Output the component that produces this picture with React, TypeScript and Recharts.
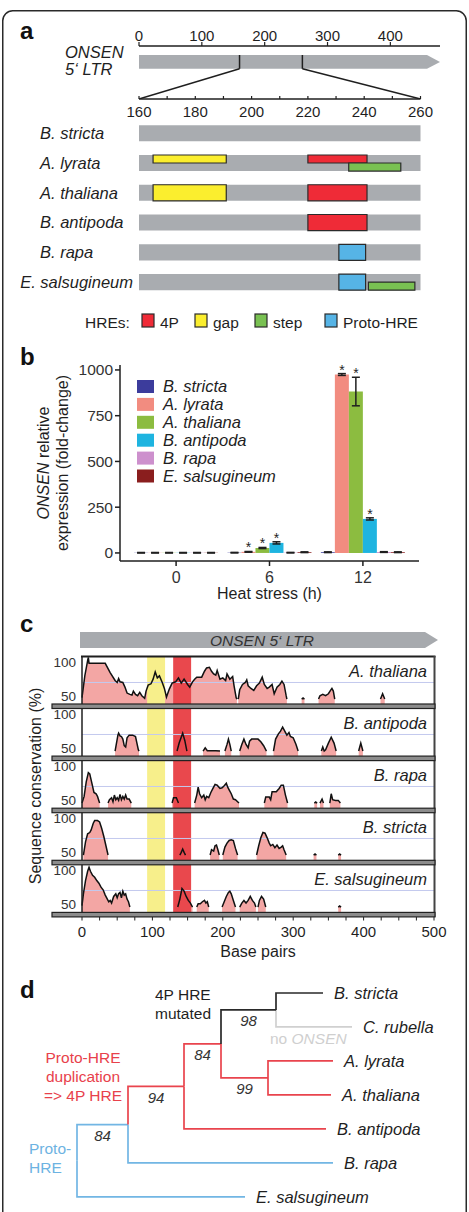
import React from 'react';
import {
  ComposedChart, BarChart, Bar, XAxis, YAxis, ErrorBar, LabelList,
  ReferenceArea, ReferenceLine, Area, Line, Scatter,
} from 'recharts';

const FONT = '"Liberation Sans", Arial, Helvetica, sans-serif';
const INK = '#1f1f1f';
const W = 469;

/* ───────────── a: ONSEN 5' LTR and its heat-responsive elements ───────────── */
const LTR_LENGTH = 479;
const LTR_TICKS = [0, 100, 200, 300, 400];
const ZOOM_FROM = 160;
const ZOOM_TO = 260;
const ZOOM_TICKS = [160, 170, 180, 190, 200, 210, 220, 230, 240, 250, 260];
const ZOOM_LABEL_STEP = 20;

const HRE_SPECIES = ['B. stricta', 'A. lyrata', 'A. thaliana', 'B. antipoda', 'B. rapa', 'E. salsugineum'];
const HRE_TYPES = ['4P', 'gap', 'step', 'Proto-HRE'];

type Track = 'full' | 'upper' | 'lower';
const hreSites: { species: string; type: string; start: number; end: number; track: Track }[] = [
  { species: 'A. lyrata', type: 'gap', start: 165, end: 191, track: 'upper' },
  { species: 'A. lyrata', type: '4P', start: 220, end: 241, track: 'upper' },
  { species: 'A. lyrata', type: 'step', start: 234.5, end: 253, track: 'lower' },
  { species: 'A. thaliana', type: 'gap', start: 165, end: 191, track: 'full' },
  { species: 'A. thaliana', type: '4P', start: 220, end: 241, track: 'full' },
  { species: 'B. antipoda', type: '4P', start: 220, end: 241, track: 'full' },
  { species: 'B. rapa', type: 'Proto-HRE', start: 231, end: 240.5, track: 'full' },
  { species: 'E. salsugineum', type: 'Proto-HRE', start: 231, end: 240.5, track: 'full' },
  { species: 'E. salsugineum', type: 'step', start: 241.5, end: 258, track: 'lower' },
];

const HRE_FILL: Record<string, string> = {
  '4P': '#ef2b37',
  gap: '#fbee2e',
  step: '#79c152',
  'Proto-HRE': '#56b4e6',
};
const LTR_GREY = '#a9acb0';

const TOP_AXIS = { left: 139, right: 440 };
const ZOOM_AXIS = { left: 139, right: 420.5 };
const ROW_HALF = 0.27;
const ARROW_Y: [number, number] = [0.17, 0.43];
const ROW_DOMAIN: [number, number] = [-1.15, 5.5];

/* ───────────── b: ONSEN expression after heat stress ───────────── */
const HEAT_HOURS = ['0', '6', '12'];
const EXPR_KEYS = ['stricta', 'lyrata', 'thaliana', 'antipoda', 'rapa', 'salsug'];
const EXPR_NAMES = ['B. stricta', 'A. lyrata', 'A. thaliana', 'B. antipoda', 'B. rapa', 'E. salsugineum'];

const strictaFold = [1, 1.5, 4];
const lyrataFold = [1, 6, 975];
const thalianaFold = [1, 27, 882];
const antipodaFold = [1, 55, 186];
const rapaFold = [1, 1.5, 5];
const salsugFold = [1, 4, 4];

const strictaErr = [1.5, 1.5, 2];
const lyrataErr = [1.5, 2, 5];
const thalianaErr = [1.5, 3, 78];
const antipodaErr = [1.5, 6, 6];
const rapaErr = [1.5, 1.5, 2];
const salsugErr = [1.5, 2, 2];

const strictaSig = [false, false, false];
const lyrataSig = [false, true, true];
const thalianaSig = [false, true, true];
const antipodaSig = [false, true, true];
const rapaSig = [false, false, false];
const salsugSig = [false, false, false];

const EXPR_FOLD = [strictaFold, lyrataFold, thalianaFold, antipodaFold, rapaFold, salsugFold];
const EXPR_ERR = [strictaErr, lyrataErr, thalianaErr, antipodaErr, rapaErr, salsugErr];
const EXPR_SIG = [strictaSig, lyrataSig, thalianaSig, antipodaSig, rapaSig, salsugSig];
const EXPR_TICKS = [0, 250, 500, 750, 1000];

const EXPR_COLORS: Record<string, string> = {
  stricta: '#3c3c9c',
  lyrata: '#f28c80',
  thaliana: '#8cbc40',
  antipoda: '#1eb4e0',
  rapa: '#cd90cd',
  salsug: '#8a1e1e',
};

const exprRows = HEAT_HOURS.map((h, i) => {
  const row: Record<string, any> = { time: h };
  EXPR_KEYS.forEach((k, s) => {
    row[k] = EXPR_FOLD[s][i];
    row[`${k}_err`] = EXPR_ERR[s][i];
    row[`${k}_sig`] = EXPR_SIG[s][i];
  });
  return row;
});

/* ───────────── c: sequence conservation along the LTR ───────────── */
type Seg = [number, number][];
const thalianaSegments: Seg[] = [
  [[0, 52], [4, 85], [8, 108], [9, 113], [10, 104], [33, 104], [40, 90], [47, 78], [50, 75], [52, 81], [54, 76], [58, 75], [61, 68], [64, 59], [68, 57], [71, 56], [73, 62], [76, 57], [79, 55], [82, 60], [85, 55], [89, 51], [91, 62], [94, 71], [98, 73], [101, 80], [104, 91], [107, 82], [110, 85], [114, 75], [117, 66], [120, 53], [124, 65], [128, 74], [133, 76], [137, 82], [141, 74], [145, 80], [150, 72], [153, 68], [157, 76], [160, 80], [163, 83], [170, 83], [174, 92], [177, 97], [181, 98], [184, 92], [187, 88], [190, 86], [192, 93], [196, 80], [200, 82], [204, 78], [206, 88], [210, 80], [214, 84], [216, 70], [219, 52], [220, 50]],
  [[222, 50], [224, 64], [228, 72], [232, 75], [234, 79], [236, 70], [240, 66], [244, 63], [248, 70], [252, 74], [256, 83], [259, 72], [263, 66], [266, 68], [270, 72], [273, 58], [277, 68], [281, 72], [284, 77], [287, 72], [290, 55], [291, 50]],
  [[312, 50], [314, 51.5], [316, 50]],
  [[336, 50], [338, 55], [342, 57], [346, 55], [350, 58], [353, 63], [355, 66], [357, 62], [359, 50]],
  [[424, 50], [427, 58], [430, 50]],
];
const antipodaSegments: Seg[] = [
  [[47, 50], [49, 62], [51, 74], [52, 77], [54, 73], [56, 72], [58, 68], [60, 58], [62, 56], [64, 70], [67, 74], [72, 74], [76, 72], [78, 62], [80, 52], [81, 50]],
  [[135, 50], [138, 62], [143, 77], [146, 66], [149, 50]],
  [[172, 50], [175, 55], [178, 50.5], [190, 50.5], [196, 50]],
  [[203, 50], [206, 60], [208, 68], [210, 60], [212, 50]],
  [[224, 50], [227, 60], [230, 68], [233, 60], [236, 55], [238, 65], [241, 68], [245, 68], [250, 68], [254, 64], [258, 58], [262, 50]],
  [[272, 50], [275, 68], [279, 76], [282, 80], [285, 86], [288, 80], [291, 74], [294, 78], [296, 72], [300, 70], [304, 60], [307, 50]],
  [[340, 50], [342, 56], [344, 50], [346, 52], [350, 62], [354, 71], [358, 62], [361, 50]],
  [[393, 50], [396, 62], [399, 50]],
];
const rapaSegments: Seg[] = [
  [[0, 50], [3, 60], [6, 82], [9, 96], [11, 94], [14, 80], [17, 66], [20, 64], [22, 60], [25, 50]],
  [[37, 50], [39, 55], [42, 58], [44, 52], [46, 62], [48, 55], [50, 58], [52, 54], [54, 63], [56, 55], [58, 60], [60, 56], [62, 62], [64, 56], [67, 56], [70, 50]],
  [[128, 50], [130, 58], [134, 58], [137, 50]],
  [[160, 50], [163, 62], [165, 74], [167, 64], [170, 58], [173, 62], [175, 55], [177, 60], [180, 58], [183, 66], [186, 72], [189, 78], [192, 77], [196, 72], [199, 73], [202, 76], [205, 80], [207, 74], [209, 70], [212, 64], [215, 56], [218, 55], [221, 52], [223, 50]],
  [[259, 50], [261, 59], [266, 59], [268, 55], [270, 67], [276, 67], [280, 72], [283, 77], [286, 77], [289, 62], [292, 50]],
  [[330, 50], [332, 51.5], [334, 50]],
  [[338, 50], [341, 56], [343, 50]],
  [[352, 50], [354, 64], [356, 55], [360, 54], [364, 54], [367, 50]],
];
const strictaSegments: Seg[] = [
  [[2, 50], [5, 70], [8, 82], [11, 84], [13, 88], [16, 98], [18, 102], [22, 102], [25, 100], [28, 90], [31, 78], [34, 64], [37, 50]],
  [[139, 50], [141, 54], [143, 59], [145, 54], [147, 50]],
  [[182, 50], [184, 58], [187, 56], [189, 64], [191, 65], [193, 58], [195, 50]],
  [[200, 50], [203, 62], [206, 68], [209, 72], [212, 73], [215, 72], [218, 60], [221, 50]],
  [[248, 50], [251, 64], [254, 76], [257, 84], [260, 83], [263, 76], [266, 68], [268, 64], [271, 66], [274, 61], [277, 65], [280, 60], [283, 62], [285, 64], [287, 58], [290, 50]],
  [[329, 50], [331, 51.5], [333, 50]],
  [[364, 50], [366, 51.5], [368, 50]],
];
const salsugSegments: Seg[] = [
  [[0, 52], [2, 70], [5, 90], [8, 104], [10, 110], [12, 104], [15, 98], [18, 95], [21, 90], [24, 86], [27, 80], [30, 76], [33, 68], [36, 62], [38, 58], [40, 60], [42, 56], [45, 66], [48, 70], [50, 64], [52, 70], [54, 72], [56, 64], [58, 74], [60, 68], [62, 70], [64, 62], [66, 58], [68, 50]],
  [[136, 50], [139, 62], [142, 78], [145, 74], [148, 66], [151, 60], [154, 56], [157, 50]],
  [[163, 50], [165, 55], [168, 55], [171, 58], [174, 60], [176, 56], [178, 58], [180, 50]],
  [[199, 50], [202, 58], [205, 66], [208, 72], [210, 74], [212, 70], [215, 60], [218, 50]],
  [[224, 50], [227, 56], [230, 60], [233, 56], [236, 60], [239, 66], [242, 60], [245, 56], [247, 50]],
  [[250, 50], [252, 60], [255, 66], [258, 62], [261, 50]],
  [[364, 50], [366, 51.5], [368, 50]],
];

const CONS_NAMES = ['A. thaliana', 'B. antipoda', 'B. rapa', 'B. stricta', 'E. salsugineum'];
const CONS_SEGMENTS = [thalianaSegments, antipodaSegments, rapaSegments, strictaSegments, salsugSegments];
const GAP_HRE_BP: [number, number] = [92.5, 118];
const FOURP_HRE_BP: [number, number] = [129.5, 155];
const BP_TICKS = Array.from({ length: 21 }, (_, i) => i * 25);
const CONS_DOMAIN: [number, number] = [42.5, 115];

const toSeries = (segs: Seg[]) =>
  segs.flatMap((seg) => [
    ...seg.map(([bp, v]) => ({ bp, v })),
    { bp: seg[seg.length - 1][0] + 0.5, v: null as number | null },
  ]);

/* ───────────── d: phylogeny ───────────── */
const LEAF_ORDER = ['B. stricta', 'C. rubella', 'A. lyrata', 'A. thaliana', 'B. antipoda', 'B. rapa', 'E. salsugineum'];
type HreState = 'proto' | 'fourP' | 'mutated' | 'absent';
const treeEdges: { node: string; parent: string; length: number; state: HreState }[] = [
  { node: 'C. rubella', parent: 'n4', length: 0.076, state: 'absent' },
  { node: 'n1', parent: 'root', length: 0.051, state: 'proto' },
  { node: 'E. salsugineum', parent: 'root', length: 0.168, state: 'proto' },
  { node: 'B. rapa', parent: 'n1', length: 0.205, state: 'proto' },
  { node: 'n2', parent: 'n1', length: 0.056, state: 'fourP' },
  { node: 'B. antipoda', parent: 'n2', length: 0.142, state: 'fourP' },
  { node: 'n3', parent: 'n2', length: 0.037, state: 'fourP' },
  { node: 'n5', parent: 'n3', length: 0.047, state: 'fourP' },
  { node: 'A. lyrata', parent: 'n5', length: 0.065, state: 'fourP' },
  { node: 'A. thaliana', parent: 'n5', length: 0.063, state: 'fourP' },
  { node: 'n4', parent: 'n3', length: 0.055, state: 'mutated' },
  { node: 'B. stricta', parent: 'n4', length: 0.047, state: 'mutated' },
];
const BOOTSTRAP: Record<string, number> = { n1: 84, n2: 94, n3: 84, n4: 98, n5: 99 };
const STATE_COLOR: Record<HreState, string> = {
  proto: '#72b6e4',
  fourP: '#e9444d',
  mutated: '#2a2a2a',
  absent: '#d0d0d0',
};

const depthOf = (id: string): number => {
  const e = treeEdges.find((t) => t.node === id);
  return e ? depthOf(e.parent) + e.length : 0;
};
const rankOf = (id: string): number => {
  const leaf = LEAF_ORDER.indexOf(id);
  if (leaf >= 0) return leaf;
  const kids = treeEdges.filter((t) => t.parent === id).map((t) => rankOf(t.node));
  return kids.reduce((a, b) => a + b, 0) / kids.length;
};
const edgePaths = treeEdges.map((e) => {
  const px = depthOf(e.parent);
  const py = rankOf(e.parent);
  const cx = depthOf(e.node);
  const cy = rankOf(e.node);
  return { ...e, points: [{ x: px, y: py }, { x: px, y: cy }, { x: cx, y: cy }] };
});
const leafPoints = LEAF_ORDER.map((name) => ({ x: depthOf(name), y: rankOf(name), name }));
const supportPoints = Object.keys(BOOTSTRAP).map((id) => {
  const e = treeEdges.find((t) => t.node === id)!;
  return { x: (depthOf(e.parent) + depthOf(id)) / 2, y: rankOf(id), support: BOOTSTRAP[id] };
});

/* ───────────── small renderers ───────────── */
const NoMark = () => <g />;

const ltrArrow = (head: number, fill: string) => (p: any) => {
  const { x, y, width, height } = p;
  const pts = [
    [x, y], [x + width - head, y], [x + width, y + height / 2], [x + width - head, y + height], [x, y + height],
  ].map((q) => q.join(',')).join(' ');
  return <polygon points={pts} fill={fill} />;
};

const ZoomTick = (p: any) => {
  const v = p.payload.value;
  return (
    <g>
      <line x1={p.x} x2={p.x} y1={p.y - 3} y2={p.y} stroke={INK} strokeWidth={1.2} />
      {(v - ZOOM_FROM) % ZOOM_LABEL_STEP === 0 && (
        <text x={p.x} y={p.y + 18} textAnchor="middle" fontSize={15} fill={INK}>{v}</text>
      )}
    </g>
  );
};

const SpeciesTick = (p: any) => {
  const name = HRE_SPECIES[p.payload.value];
  if (!name) return null;
  const long = name.length > 12;
  return (
    <text x={long ? p.x : 40} y={p.y} dy={5.8} textAnchor={long ? 'end' : 'start'}
      fontSize={16.5} fontStyle="italic" fill={INK}>{name}</text>
  );
};

const PctTick = (p: any) => (
  <text x={p.x} y={p.y} dy={1.5} textAnchor="end" fontSize={13.5} fill="#333">{p.payload.value}</text>
);

const BpTick = (p: any) => {
  const v = p.payload.value;
  return (
    <g>
      <line x1={p.x} x2={p.x} y1={p.y + 5} y2={p.y + 8.5} stroke={INK} strokeWidth={1} />
      {v % 100 === 0 && (
        <text x={p.x} y={p.y + 25} textAnchor="middle" fontSize={15} fill={INK}>{v}</text>
      )}
    </g>
  );
};

const StarMark = (props: any) => {
  const v = props.value;
  if (!v || typeof v !== 'object') return null;
  const box = props.viewBox ?? props;
  const x = box.x ?? props.x;
  const y = box.y ?? props.y;
  const w = box.width ?? props.width;
  const h = box.height ?? props.height;
  if (x == null || y == null || !h) return null;
  const pxPerUnit = h / v.mean;
  const errTop = y - v.err * pxPerUnit;
  return (
    <text x={x + w / 2} y={errTop + 1} textAnchor="middle" fontSize={14} fill={INK}>*</text>
  );
};

const LeafLabel = (p: any) => (
  <text x={p.cx + 11} y={p.cy + 6} fontSize={16.5} fontStyle="italic" fill={INK}>{p.payload.name}</text>
);
const SupportLabel = (p: any) => (
  <text x={p.cx} y={p.cy + 16.5} textAnchor="middle" fontSize={15} fontStyle="italic" fill="#333">{p.payload.support}</text>
);

/* ───────────── panels ───────────── */
function LtrOverview() {
  const zoomEndOnTop = LTR_LENGTH * (ZOOM_AXIS.right - ZOOM_AXIS.left) / (TOP_AXIS.right - TOP_AXIS.left);
  const line = { stroke: INK, strokeWidth: 1.5 };
  const extent = [{ x: 0, y: 0 }, { x: LTR_LENGTH, y: 1 }];
  return (
    <div style={{ position: 'absolute', left: 0, top: 20 }}>
      <ComposedChart width={W} height={79} margin={{ top: 0, right: W - TOP_AXIS.right, bottom: 0, left: TOP_AXIS.left }}>
        <XAxis type="number" dataKey="x" orientation="top" domain={[0, LTR_LENGTH]} ticks={LTR_TICKS} interval={0} height={26}
          tickSize={4} tickMargin={1} axisLine={{ stroke: INK, strokeWidth: 1.5 }} tickLine={{ stroke: INK, strokeWidth: 1.2 }}
          tick={{ fontSize: 15, fill: INK }} allowDataOverflow />
        <YAxis type="number" dataKey="y" hide domain={[0, 1]} reversed allowDataOverflow />
        <Scatter data={extent} dataKey="y" shape={NoMark} isAnimationActive={false} />
        <ReferenceArea x1={0} x2={LTR_LENGTH} y1={ARROW_Y[0]} y2={ARROW_Y[1]} shape={ltrArrow(13, LTR_GREY)} />
        <ReferenceLine segment={[{ x: ZOOM_FROM, y: ARROW_Y[0] }, { x: ZOOM_FROM, y: ARROW_Y[1] }]} {...line} />
        <ReferenceLine segment={[{ x: ZOOM_TO, y: ARROW_Y[0] }, { x: ZOOM_TO, y: ARROW_Y[1] }]} {...line} />
        <ReferenceLine segment={[{ x: ZOOM_FROM, y: ARROW_Y[1] }, { x: 0, y: 1 }]} {...line} />
        <ReferenceLine segment={[{ x: ZOOM_TO, y: ARROW_Y[1] }, { x: zoomEndOnTop, y: 1 }]} {...line} />
      </ComposedChart>
    </div>
  );
}

function HreRows() {
  const rowOf = (s: string) => HRE_SPECIES.indexOf(s);
  const span = (t: Track): [number, number] =>
    t === 'upper' ? [-ROW_HALF, 0] : t === 'lower' ? [0, ROW_HALF] : [-ROW_HALF, ROW_HALF];
  const rowAnchors = HRE_SPECIES.map((_, i) => ({ x: ZOOM_FROM, y: i }));
  return (
    <div style={{ position: 'absolute', left: 0, top: 80 }}>
      <ComposedChart width={W} height={217} margin={{ top: 0, right: W - ZOOM_AXIS.right, bottom: 0, left: 0 }}>
        <XAxis type="number" dataKey="x" orientation="top" domain={[ZOOM_FROM, ZOOM_TO]} ticks={ZOOM_TICKS} interval={0}
          height={19} allowDataOverflow axisLine={{ stroke: INK, strokeWidth: 1.5 }} tickLine={false} tickSize={0}
          tickMargin={0} tick={ZoomTick} />
        <YAxis type="number" dataKey="y" domain={ROW_DOMAIN} reversed allowDataOverflow ticks={[0, 1, 2, 3, 4, 5]}
          interval={0} width={ZOOM_AXIS.left} axisLine={false} tickLine={false} tickSize={0} tickMargin={6}
          tick={SpeciesTick} />
        <Scatter data={rowAnchors} dataKey="y" shape={NoMark} isAnimationActive={false} />
        {HRE_SPECIES.map((s, i) => (
          <ReferenceArea key={s} x1={ZOOM_FROM} x2={ZOOM_TO} y1={i - ROW_HALF} y2={i + ROW_HALF}
            fill={LTR_GREY} fillOpacity={1} stroke="none" />
        ))}
        {hreSites.map((h, k) => {
          const r = rowOf(h.species);
          const [a, b] = span(h.track);
          return (
            <ReferenceArea key={k} x1={h.start} x2={h.end} y1={r + a} y2={r + b}
              fill={HRE_FILL[h.type]} fillOpacity={1} stroke="#2b2b2b" strokeWidth={1.2} />
          );
        })}
      </ComposedChart>
    </div>
  );
}

function ExpressionBars() {
  return (
    <div style={{ position: 'absolute', left: 0, top: 355 }}>
      <BarChart width={W} height={230} data={exprRows} margin={{ top: 10, right: 50, bottom: 0, left: 0 }}
        barCategoryGap="5%" barGap={0}>
        <XAxis dataKey="time" padding={{ left: 9.4, right: 9.4 }} height={24} tickSize={5} tickMargin={6}
          axisLine={{ stroke: INK, strokeWidth: 1.5 }} tickLine={{ stroke: INK, strokeWidth: 1.5 }}
          tick={{ fontSize: 16, fill: '#333' }} />
        <YAxis type="number" domain={[-44, 1027]} ticks={EXPR_TICKS} interval={0} width={120} allowDataOverflow
          tickSize={5} tickMargin={2} axisLine={{ stroke: INK, strokeWidth: 1.5 }} tickLine={{ stroke: INK, strokeWidth: 1.5 }}
          tick={{ fontSize: 15.5, fill: '#333' }} />
        {EXPR_KEYS.map((k, s) => (
          <Bar key={k} dataKey={k} name={EXPR_NAMES[s]} fill={EXPR_COLORS[k]} isAnimationActive={false}>
            <ErrorBar dataKey={`${k}_err`} width={4} stroke={INK} strokeWidth={1.5} />
            <LabelList
              dataKey={(row: any) => (row[`${k}_sig`] ? { mean: row[k], err: row[`${k}_err`] } : null)}
              content={StarMark}
            />
          </Bar>
        ))}
      </BarChart>
    </div>
  );
}

function ConservationPanel({ index }: { index: number }) {
  const last = index === CONS_NAMES.length - 1;
  const data = toSeries(CONS_SEGMENTS[index]);
  const plotH = 48;
  return (
    <div style={{ position: 'absolute', left: 0, top: 656 + 52 * index }}>
      <ComposedChart width={W} height={plotH + (last ? 40 : 0)} data={data}
        margin={{ top: 0, right: 35, bottom: 0, left: 0 }}>
        <XAxis type="number" dataKey="bp" domain={[0, 500]} hide={!last} ticks={BP_TICKS} interval={0} height={40}
          axisLine={false} tickLine={false} tickSize={0} tickMargin={0} tick={BpTick} />
        <YAxis type="number" domain={CONS_DOMAIN} allowDataOverflow ticks={[50, 100]} interval={0} width={82}
          tickLine={false} tickSize={0} tickMargin={6} axisLine={{ stroke: INK, strokeWidth: 1.5 }} tick={PctTick} />
        <ReferenceLine y={75} stroke="#c3c9ee" strokeWidth={1} />
        <Area dataKey="v" type="linear" baseValue={CONS_DOMAIN[0]} fill="#f3a6a4" fillOpacity={1} stroke="none"
          connectNulls={false} isAnimationActive={false} />
        <ReferenceArea x1={GAP_HRE_BP[0]} x2={GAP_HRE_BP[1]} fill="#f7ef8b" fillOpacity={1} stroke="none" />
        <ReferenceArea x1={FOURP_HRE_BP[0]} x2={FOURP_HRE_BP[1]} fill="#e9484d" fillOpacity={1} stroke="none" />
        <Line dataKey="v" type="linear" stroke="#111" strokeWidth={1.5} dot={false} connectNulls={false}
          isAnimationActive={false} />
      </ComposedChart>
    </div>
  );
}

function Phylogeny() {
  return (
    <div style={{ position: 'absolute', left: 0, top: 976 }}>
      <ComposedChart width={W} height={231} margin={{ top: 0, right: 0, bottom: 0, left: 77 }}>
        <XAxis type="number" dataKey="x" domain={[0, 0.392]} hide />
        <YAxis type="number" dataKey="y" domain={[-0.5, 6.3]} reversed hide />
        {edgePaths.map((e) => (
          <Line key={e.node} data={e.points} dataKey="y" type="linear" stroke={STATE_COLOR[e.state]}
            strokeWidth={1.7} dot={false} isAnimationActive={false} />
        ))}
        <Scatter data={supportPoints} dataKey="y" shape={SupportLabel} isAnimationActive={false} />
        <Scatter data={leafPoints} dataKey="y" shape={LeafLabel} isAnimationActive={false} />
      </ComposedChart>
    </div>
  );
}

/* ───────────── free text, frames and keys ───────────── */
function Annotations() {
  const it = { fontStyle: 'italic' as const };
  const hreKeyX = [142, 195, 255, 325];
  return (
    <svg width={W} height={1212} style={{ position: 'absolute', left: 0, top: 0, pointerEvents: 'none' }}
      fontFamily={FONT}>
      <rect x={2.75} y={10.75} width={463.5} height={1260} rx={10} fill="none" stroke="#2a2a2a" strokeWidth={1.5} />

      {[['a', 39], ['b', 365], ['c', 632], ['d', 998]].map(([l, y]) => (
        <text key={l as string} x={20} y={y as number} fontSize={24} fontWeight="bold" fill="#111">{l}</text>
      ))}

      {/* a */}
      <text x={65} y={58} fontSize={16.5} fill={INK} {...it}>ONSEN</text>
      <text x={65} y={75} fontSize={16.5} fill={INK} {...it}>5‘ LTR</text>
      <text x={85} y={327.5} fontSize={15.5} fill={INK}>HREs:</text>
      {HRE_TYPES.map((t, i) => (
        <g key={t}>
          <rect x={hreKeyX[i]} y={314} width={12} height={13} fill={HRE_FILL[t]} stroke="#2b2b2b" strokeWidth={1.2} />
          <text x={hreKeyX[i] + 18} y={327.5} fontSize={15.5} fill={INK}>{t}</text>
        </g>
      ))}

      {/* b */}
      <text transform="translate(49,463) rotate(-90)" textAnchor="middle" fontSize={16} fill={INK}>
        <tspan fontStyle="italic">ONSEN</tspan> relative
      </text>
      <text transform="translate(68,463) rotate(-90)" textAnchor="middle" fontSize={16} fill={INK}>
        expression (fold-change)
      </text>
      <text x={269.5} y={599} textAnchor="middle" fontSize={16} fill={INK}>Heat stress (h)</text>
      {EXPR_KEYS.map((k, i) => (
        <g key={k}>
          <rect x={137} y={380 + 17.9 * i} width={17} height={13} fill={EXPR_COLORS[k]} />
          <text x={163} y={392 + 17.9 * i} fontSize={16.5} fill={INK} {...it}>{EXPR_NAMES[i]}</text>
        </g>
      ))}

      {/* c */}
      <polygon points="80,632 425,632 438,640 425,648 80,648" fill="#a7aaae" />
      <text x={262} y={645.5} textAnchor="middle" fontSize={15.5} fill="#333" {...it}>ONSEN 5‘ LTR</text>
      <line x1={81} x2={435.5} y1={656.5} y2={656.5} stroke={INK} strokeWidth={2} />
      <line x1={434.5} x2={434.5} y1={656} y2={917} stroke="#444" strokeWidth={2} />
      {CONS_NAMES.map((n, i) => (
        <g key={n}>
          <rect x={52} y={704 + 52.1 * i} width={383} height={4.5} fill="#8c8c8c" stroke="#222" strokeWidth={1.2} />
          <text x={427} y={677 + 52 * i} textAnchor="end" fontSize={16.5} fill={INK} {...it}>{n}</text>
        </g>
      ))}
      <text transform="translate(41,786) rotate(-90)" textAnchor="middle" fontSize={16} fill={INK}>
        Sequence conservation (%)
      </text>
      <text x={258} y={957} textAnchor="middle" fontSize={16} fill={INK}>Base pairs</text>

      {/* d */}
      <text x={155} y={1000} fontSize={15.5} fill={INK}>4P HRE</text>
      <text x={155} y={1019} fontSize={15.5} fill={INK}>mutated</text>
      <text x={270} y={1044} fontSize={15.5} fill="#cfcfcf">no <tspan fontStyle="italic">ONSEN</tspan></text>
      <text x={83} y={1063} textAnchor="middle" fontSize={15.5} fill="#e8414b">Proto-HRE</text>
      <text x={83} y={1082} textAnchor="middle" fontSize={15.5} fill="#e8414b">duplication</text>
      <text x={83} y={1101} textAnchor="middle" fontSize={15.5} fill="#e8414b">{'=> 4P HRE'}</text>
      <text x={29} y={1154} fontSize={15.5} fill="#6db3e2">Proto-</text>
      <text x={29} y={1173} fontSize={15.5} fill="#6db3e2">HRE</text>
    </svg>
  );
}

export default function App() {
  return (
    <div style={{
      position: 'absolute', left: 0, top: 0, width: W, height: 1212, overflow: 'hidden',
      background: '#fff', fontFamily: FONT,
    }}>
      <LtrOverview />
      <HreRows />
      <ExpressionBars />
      {CONS_NAMES.map((n, i) => <ConservationPanel key={n} index={i} />)}
      <Phylogeny />
      <Annotations />
    </div>
  );
}
